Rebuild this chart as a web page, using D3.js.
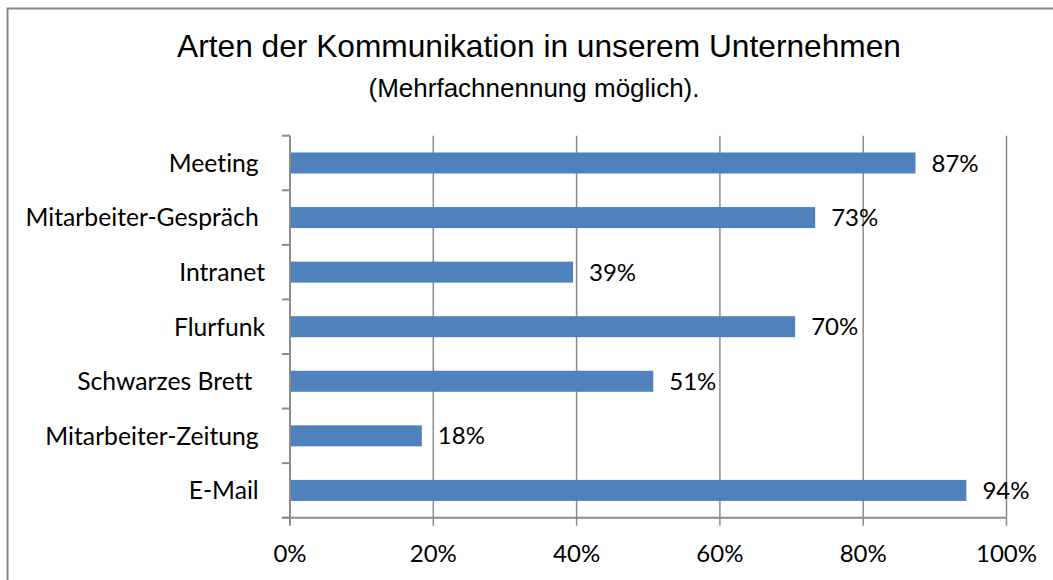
<!DOCTYPE html>
<html>
<head>
<meta charset="utf-8">
<script src="https://cdn.jsdelivr.net/npm/d3@7"></script>
<style>
  body { margin: 0; background: #fff; }
  svg { display: block; }
  .cat, .val, .xt { font-family: Lato, "Open Sans", sans-serif; fill: #000; font-variant-ligatures: none; }
  .cat { white-space: pre; }
  .ttl { font-family: "Liberation Sans", Arial, sans-serif; fill: #000; }
</style>
</head>
<body>
<div id="chart"></div>
<script>

// category names as typed in the source sheet (some carry trailing blanks)
var categories = ['Meeting ', 'Mitarbeiter-Gespräch ', 'Intranet', 'Flurfunk', 'Schwarzes Brett  ', 'Mitarbeiter-Zeitung ', 'E-Mail '];
var values     = [0.873, 0.733, 0.395, 0.705, 0.507, 0.184, 0.944];
var valueLabels = ['87%', '73%', '39%', '70%', '51%', '18%', '94%'];
var xTicks     = [0, 0.2, 0.4, 0.6, 0.8, 1];
var titleText  = 'Arten der Kommunikation in unserem Unternehmen';
var subText    = '(Mehrfachnennung möglich).';

var W = 1053, H = 580,
    plot = { left: 290, right: 1006.5, top: 135.7, bottom: 517.7 };

var data = categories.map((c, i) => ({ cat: c, value: values[i], label: valueLabels[i] }));

var x = d3.scaleLinear()
    .domain([0, 1])
    .range([plot.left, plot.right]);

var y = d3.scaleBand()
    .domain(categories)
    .range([plot.top, plot.bottom])
    .paddingInner(0.615)
    .paddingOuter(0.3075);

var svg = d3.select('#chart').append('svg')
    .attr('width', W)
    .attr('height', H);

// outer frame
svg.append('rect')
    .attr('x', 7.5).attr('y', 8.5)
    .attr('width', 1100).attr('height', 700)
    .attr('fill', 'none')
    .attr('stroke', '#878787')
    .attr('stroke-width', 2);

// title
svg.append('text')
    .attr('class', 'ttl')
    .attr('x', 539).attr('y', 57)
    .attr('text-anchor', 'middle')
    .style('font-size', '31.7px')
    .text(titleText);

svg.append('text')
    .attr('class', 'ttl')
    .attr('x', 534).attr('y', 97)
    .attr('text-anchor', 'middle')
    .style('font-size', '26px')
    .text(subText);

// vertical grid lines (with the tick below the axis)
svg.append('g')
    .selectAll('line')
    .data(xTicks.slice(1)).enter()
  .append('line')
    .attr('x1', d => x(d)).attr('x2', d => x(d))
    .attr('y1', plot.top).attr('y2', plot.bottom + 8)
    .attr('stroke', '#8c8c8c')
    .attr('stroke-width', 1.5);

// bars
svg.append('g')
    .selectAll('rect')
    .data(data).enter()
  .append('rect')
    .attr('x', x(0))
    .attr('y', d => y(d.cat))
    .attr('width', d => x(d.value) - x(0))
    .attr('height', y.bandwidth())
    .attr('fill', '#4f81bd');

// value labels
svg.append('g')
    .selectAll('text')
    .data(data).enter()
  .append('text')
    .attr('class', 'val')
    .attr('x', d => x(d.value) + 16)
    .attr('y', d => y(d.cat) + y.bandwidth() / 2)
    .attr('dy', '.36em')
    .style('font-size', '24px')
    .text(d => d.label);

// y axis
var yAxis = svg.append('g')
    .attr('transform', `translate(${plot.left},0)`);
yAxis.append('line')
    .attr('y1', plot.top).attr('y2', plot.bottom)
    .attr('stroke', '#8c8c8c').attr('stroke-width', 2);
var bounds = categories.map(c => y(c) - y.step() * y.paddingInner() / 2);
bounds.push(plot.bottom);
yAxis.selectAll('.tk')
    .data(bounds).enter()
  .append('line')
    .attr('x1', -8).attr('x2', 0)
    .attr('y1', d => d).attr('y2', d => d)
    .attr('stroke', '#8c8c8c').attr('stroke-width', 2);
yAxis.selectAll('.cat')
    .data(categories).enter()
  .append('text')
    .attr('class', 'cat')
    .attr('x', -25)
    .attr('y', d => y(d) + y.bandwidth() / 2)
    .attr('dy', '.36em')
    .attr('text-anchor', 'end')
    .style('font-size', '24.7px')
    .text(d => d);

// x axis
var xAxis = svg.append('g');
xAxis.append('line')
    .attr('x1', plot.left - 8).attr('x2', plot.right)
    .attr('y1', plot.bottom).attr('y2', plot.bottom)
    .attr('stroke', '#8c8c8c').attr('stroke-width', 2);
xAxis.append('line')
    .attr('x1', plot.left).attr('x2', plot.left)
    .attr('y1', plot.bottom).attr('y2', plot.bottom + 8)
    .attr('stroke', '#8c8c8c').attr('stroke-width', 2);
xAxis.selectAll('.xt')
    .data(xTicks).enter()
  .append('text')
    .attr('class', 'xt')
    .attr('x', d => x(d))
    .attr('y', 553)
    .attr('dy', '.36em')
    .attr('text-anchor', 'middle')
    .style('font-size', '24px')
    .text(d => d3.format('.0%')(d));

</script>
</body>
</html>
